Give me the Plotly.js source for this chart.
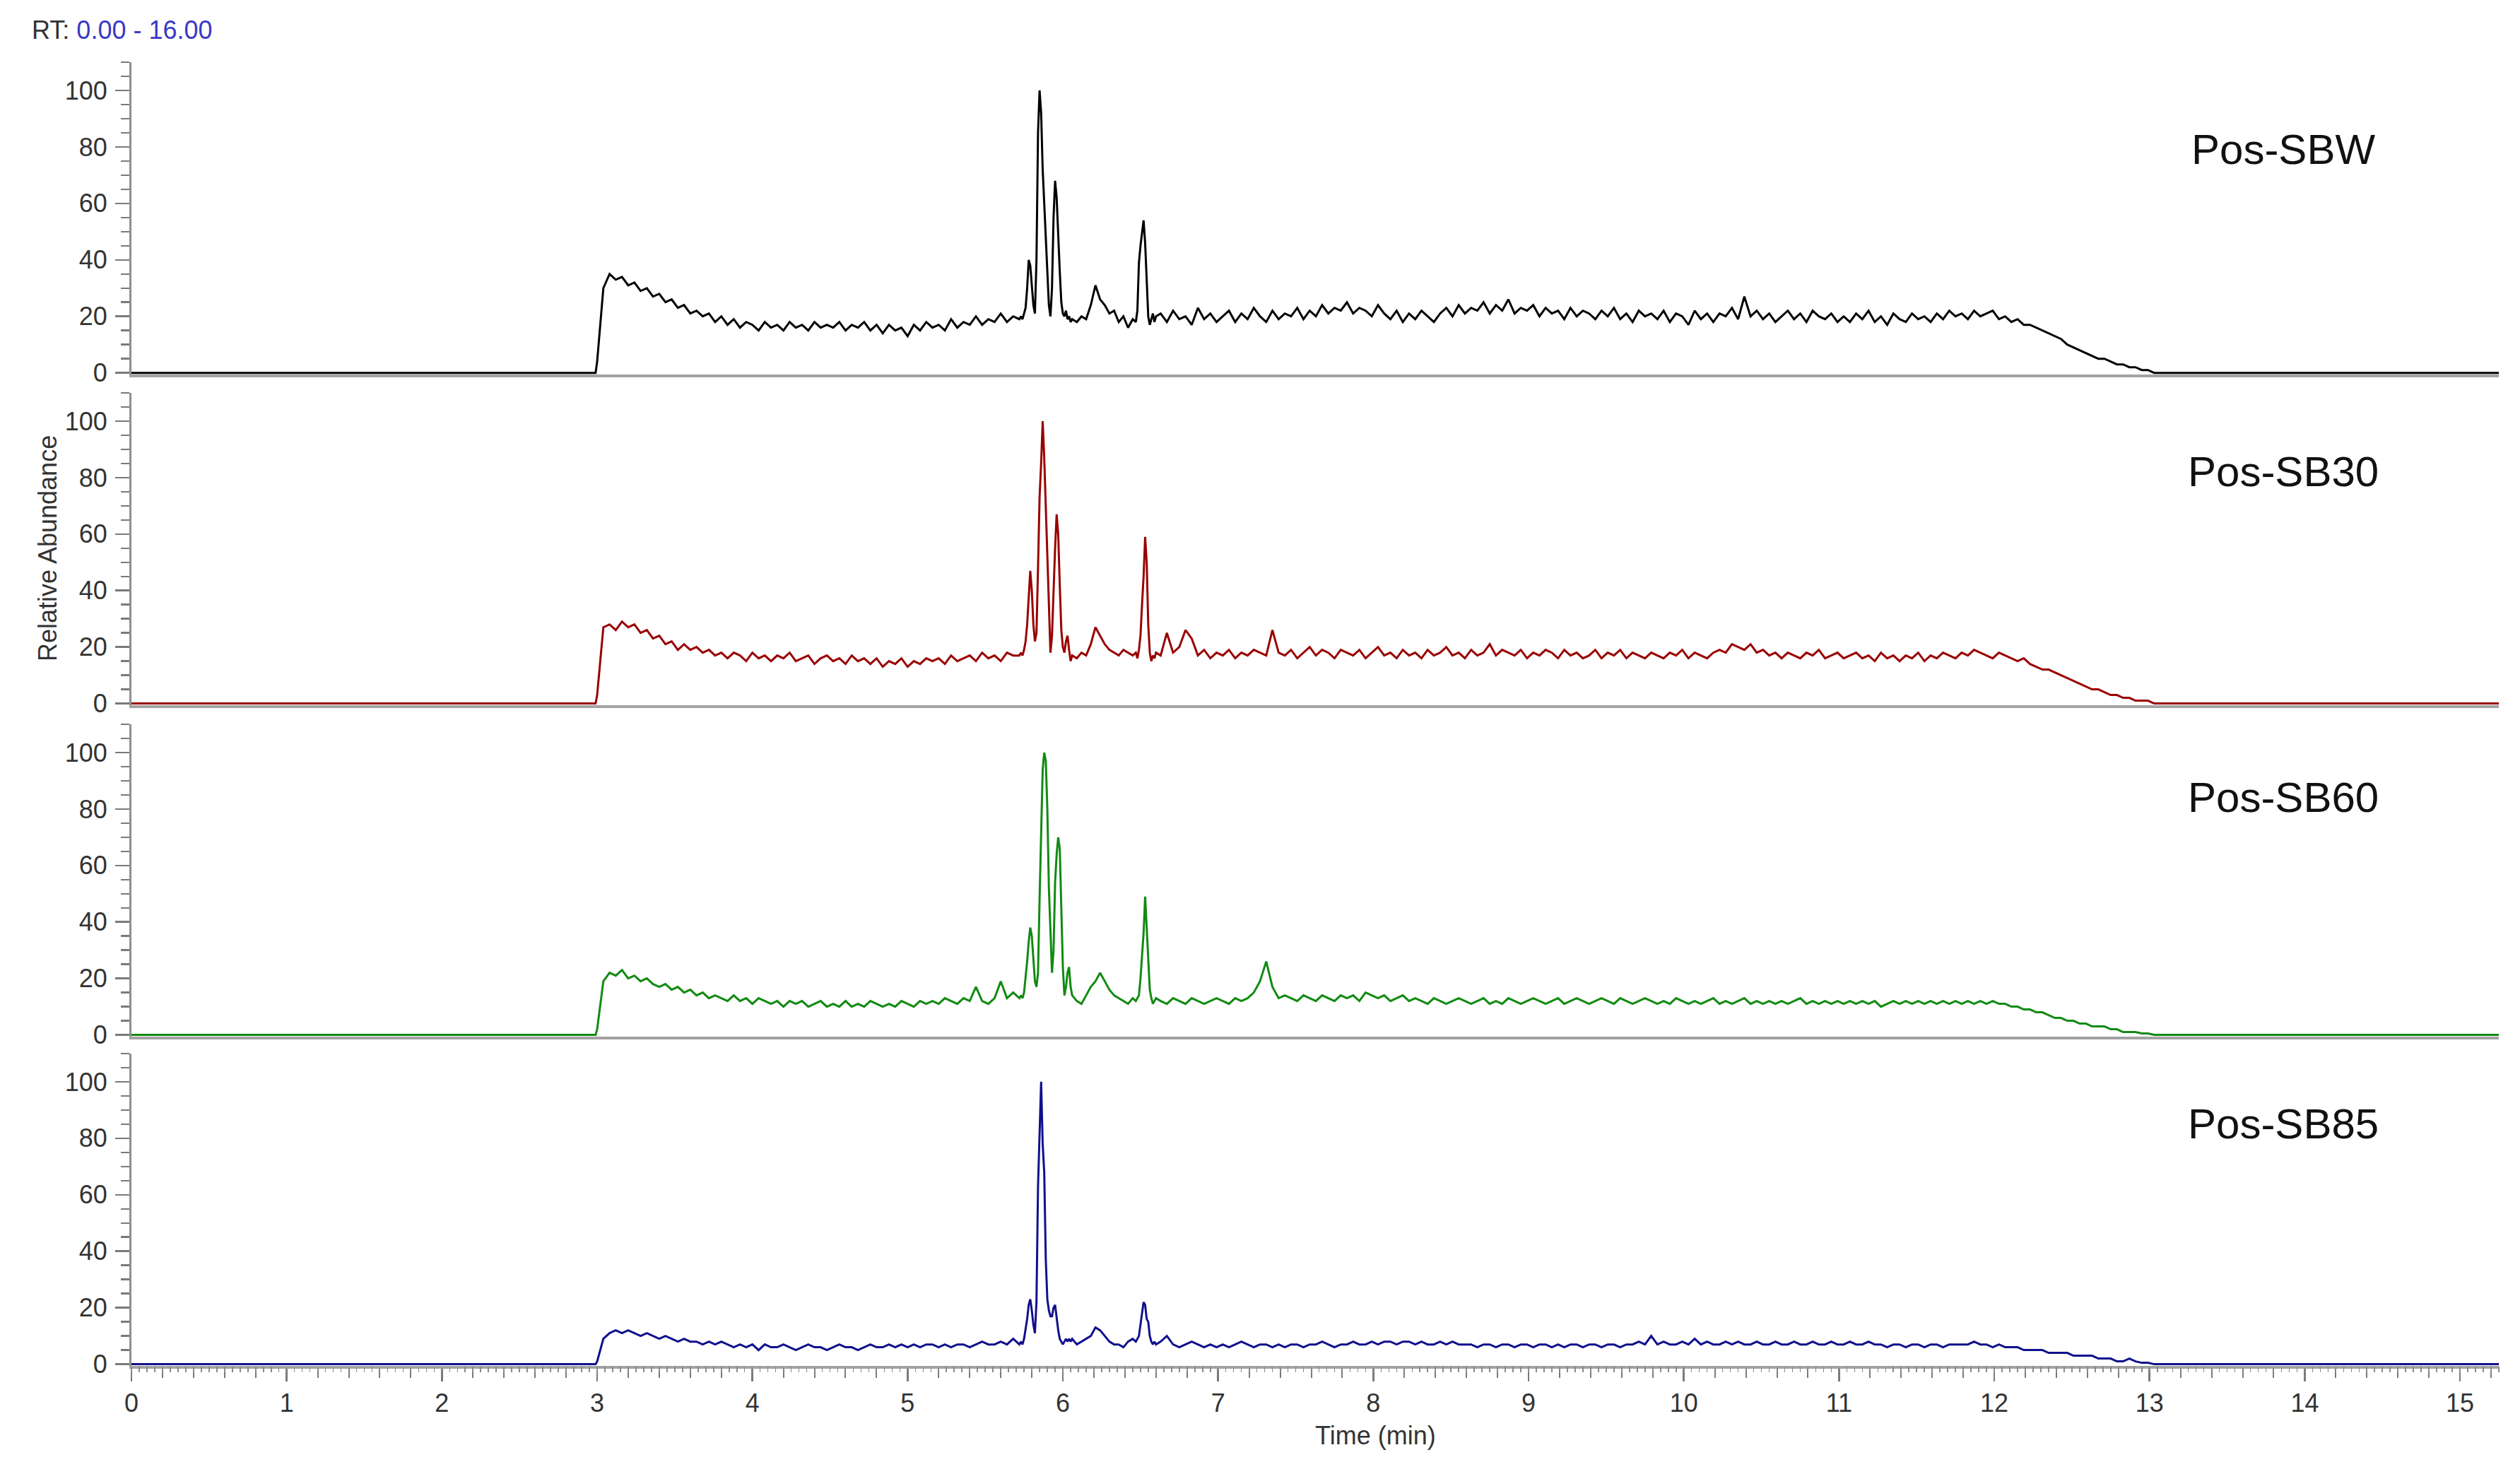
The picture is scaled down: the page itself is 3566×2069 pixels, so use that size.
<!DOCTYPE html>
<html>
<head>
<meta charset="utf-8">
<script src="https://cdn.plot.ly/plotly-3.0.1.min.js"></script>
<style>html,body{margin:0;padding:0;background:#fff;}#chart{width:3566px;height:2069px;}</style>
</head>
<body>
<div id="chart"></div>
<script>
// ---- Data (retention time in minutes, relative abundance in %) ----
const time = [0, 2.99,
 3.00,3.04,3.08,3.12,3.16,3.20,3.24,3.28,3.32,3.36,
 3.40,3.44,3.48,3.52,3.56,3.60,3.64,3.68,3.72,3.76,
 3.80,3.84,3.88,3.92,3.96,4.00,4.04,4.08,4.12,4.16,
 4.20,4.24,4.28,4.32,4.36,4.40,4.44,4.48,4.52,4.56,
 4.60,4.64,4.68,4.72,4.76,4.80,4.84,4.88,4.92,4.96,
 5.00,5.04,5.08,5.12,5.16,5.20,5.24,5.28,5.32,5.36,
 5.40,5.44,5.48,5.52,5.56,5.60,5.64,5.68,
 5.72,5.73,5.74,5.75,5.76,5.77,5.78,5.79,5.80,5.81,
 5.82,5.83,5.84,5.85,5.86,5.87,5.88,5.89,5.90,5.91,
 5.92,5.93,5.94,5.95,5.96,5.97,5.98,5.99,6.00,6.01,
 6.02,6.03,6.04,6.05,6.06,
 6.09,6.12,6.15,6.18,6.21,6.24,6.27,6.30,6.33,6.36,6.39,6.42,6.45,
 6.47,6.48,6.49,6.50,6.51,6.52,6.53,6.54,6.55,6.56,6.57,6.58,6.59,6.60,
 6.63,6.67,6.71,6.75,6.79,6.83,6.87,6.91,6.95,6.99,
 7.03,7.07,7.11,7.15,7.19,7.23,7.27,7.31,7.35,7.39,
 7.43,7.47,7.51,7.55,7.59,7.63,7.67,7.71,7.75,7.79,
 7.83,7.87,7.91,7.95,7.99,8.03,8.07,8.11,8.15,8.19,
 8.23,8.27,8.31,8.35,8.39,8.43,8.47,8.51,8.55,8.59,
 8.63,8.67,8.71,8.75,8.79,8.83,8.87,8.91,8.95,8.99,
 9.03,9.07,9.11,9.15,9.19,9.23,9.27,9.31,9.35,9.39,
 9.43,9.47,9.51,9.55,9.59,9.63,9.67,9.71,9.75,9.79,
 9.83,9.87,9.91,9.95,9.99,10.03,10.07,10.11,10.15,10.19,
 10.23,10.27,10.31,10.35,10.39,10.43,10.47,10.51,10.55,10.59,
 10.63,10.67,10.71,10.75,10.79,10.83,10.87,10.91,10.95,10.99,
 11.03,11.07,11.11,11.15,11.19,11.23,11.27,11.31,11.35,11.39,
 11.43,11.47,11.51,11.55,11.59,11.63,11.67,11.71,11.75,11.79,
 11.83,11.87,11.91,11.95,11.99,12.03,12.07,12.11,12.15,12.19,
 12.23,12.27,12.31,12.35,12.39,12.43,12.47,12.51,12.55,12.59,
 12.63,12.67,12.71,12.75,12.79,12.83,12.87,12.91,12.95,12.99,
 13.03,
 13.07, 15.25];

const sbw = [0, 0,
 4,30,35,33,34,31,32,29,30,27,
 28,25,26,23,24,21,22,20,21,18,
 20,17,19,16,18,17,15,18,16,17,
 15,18,16,17,15,18,16,17,16,18,
 15,17,16,18,15,17,14,17,15,16,
 13,17,15,18,16,17,15,19,16,18,
 17,20,17,19,18,21,18,20,
 19,20,19,21,23,30,40,38,30,24,
 21,40,85,100,92,72,60,48,35,24,
 20,30,55,68,62,47,36,25,21,20,
 22,19,20,18,19,
 18,20,19,24,31,26,24,21,22,18,20,16,19,
 18,22,39,45,50,54,46,33,20,17,19,21,18,20,
 21,18,22,19,20,17,23,19,21,18,
 20,22,18,21,19,23,20,18,22,19,
 21,20,23,19,22,20,24,21,23,22,
 25,21,23,22,20,24,21,19,22,18,
 21,19,22,20,18,21,23,20,24,21,
 23,22,25,21,24,22,26,21,23,22,
 24,20,23,21,22,19,23,20,22,21,
 19,22,20,23,19,21,18,22,20,21,
 19,22,18,21,20,17,22,19,21,18,
 21,20,23,19,27,20,22,19,21,18,
 20,22,19,21,18,22,20,19,21,18,
 20,18,21,19,22,18,20,17,21,19,
 18,21,19,20,18,21,19,22,20,21,
 19,22,20,21,22,19,20,18,19,17,
 17,16,15,14,13,12,10,9,8,7,
 6,5,5,4,3,3,2,2,1,1,
 0,
 0, 0];

const sb30 = [0, 0,
 3,27,28,26,29,27,28,25,26,23,
 24,21,22,19,21,19,20,18,19,17,
 18,16,18,17,15,18,16,17,15,17,
 16,18,15,16,17,14,16,17,15,16,
 14,17,15,16,14,16,13,15,14,16,
 13,15,14,16,15,16,14,17,15,16,
 17,15,18,16,17,15,18,17,
 17,18,17,19,22,28,38,47,40,28,
 22,25,48,73,85,100,87,70,53,35,
 18,24,42,55,67,60,42,26,20,18,
 22,24,19,15,17,
 16,18,17,21,27,24,21,19,18,17,19,18,17,
 18,16,19,24,35,45,59,50,28,18,15,17,16,18,
 17,25,18,20,26,23,17,19,16,18,
 17,19,16,18,17,19,18,17,26,18,
 17,19,16,18,20,17,19,18,16,19,
 18,17,19,16,18,20,17,18,16,19,
 17,18,16,19,17,18,20,17,18,16,
 19,17,18,21,17,19,18,17,19,16,
 18,17,19,18,16,19,17,18,16,17,
 19,16,18,17,19,16,18,17,16,18,
 17,16,18,17,19,16,18,17,16,18,
 19,18,21,20,19,21,18,19,17,18,
 16,18,17,16,18,17,19,16,17,18,
 16,17,18,16,17,15,18,16,17,15,
 17,16,18,15,17,16,18,17,16,18,
 17,19,18,17,16,18,17,16,15,16,
 14,13,12,12,11,10,9,8,7,6,
 5,5,4,3,3,2,2,1,1,1,
 0,
 0, 0];

const sb60 = [0, 0,
 2,19,22,21,23,20,21,19,20,18,
 17,18,16,17,15,16,14,15,13,14,
 13,12,14,12,13,11,13,12,11,12,
 10,12,11,12,10,11,12,10,11,10,
 12,10,11,10,12,11,10,11,10,12,
 11,10,12,11,12,11,13,12,11,13,
 12,17,12,11,13,19,13,15,
 13,14,13,15,20,26,33,38,35,27,
 19,17,22,48,74,94,100,97,80,52,
 37,22,30,54,64,70,66,44,24,14,
 17,22,24,17,14,
 12,11,14,17,19,22,19,16,14,13,12,11,13,
 12,13,14,20,28,36,49,38,27,16,13,11,12,13,
 12,11,13,12,11,13,12,11,12,13,
 12,11,13,12,13,15,19,26,17,13,
 14,13,12,14,13,12,14,13,12,14,
 13,14,12,15,14,13,14,12,13,14,
 12,13,12,11,13,12,11,12,13,12,
 11,12,13,11,12,11,13,12,11,12,
 13,12,11,12,13,11,12,13,12,11,
 12,13,12,11,13,12,11,12,13,12,
 11,12,11,13,12,11,12,11,12,13,
 11,12,11,12,13,11,12,11,12,11,
 12,11,12,13,11,12,11,12,11,12,
 11,12,11,12,11,12,10,11,12,11,
 12,11,12,11,12,11,12,11,12,11,
 12,11,12,11,12,11,11,10,10,9,
 9,8,8,7,6,6,5,5,4,4,
 3,3,3,2,2,1,1,1,0.5,0.5,
 0,
 0, 0];

const sb85 = [0, 0,
 1,9,11,12,11,12,11,10,11,10,
 9,10,9,8,9,8,8,7,8,7,
 8,7,6,7,6,7,5,7,6,6,
 7,6,5,6,7,6,6,5,6,7,
 6,6,5,6,7,6,6,7,6,7,
 6,7,6,7,7,6,7,6,7,7,
 6,7,8,7,7,8,7,9,
 7,8,7,9,12,16,21,23,19,14,
 11,22,63,80,100,78,68,37,23,19,
 17,17,20,21,16,12,9,8,7,8,
 9,8,9,8,9,
 7,8,9,10,13,12,10,8,7,7,6,8,9,
 8,9,10,14,18,22,21,16,15,10,8,7,8,7,
 8,10,7,6,7,8,7,6,7,6,
 7,6,7,8,7,6,7,7,6,7,
 6,7,7,6,7,7,8,7,6,7,
 7,8,7,7,8,7,8,8,7,8,
 8,7,8,7,7,8,7,8,7,7,
 7,6,7,7,6,7,7,6,7,7,
 6,7,7,6,7,6,7,7,6,7,
 7,6,7,7,6,7,7,8,7,10,
 7,8,7,7,8,7,9,7,8,7,
 7,8,7,8,7,7,8,7,7,8,
 7,7,8,7,7,8,7,7,8,7,
 7,8,7,7,8,7,7,6,7,7,
 6,7,7,6,7,7,6,7,7,7,
 7,8,7,7,6,7,6,6,6,5,
 5,5,5,4,4,4,4,3,3,3,
 3,2,2,2,1,1,2,1,0.5,0.5,
 0,
 0, 0];

const sampleNames = ['Pos-SBW', 'Pos-SB30', 'Pos-SB60', 'Pos-SB85'];
const sampleColors = ['#000000', '#990000', '#128a12', '#10108c'];
const labelHeights = [79, 82, 84, 85];
const yTickValues = [0, 20, 40, 60, 80, 100];
const xTickValues = [0,1,2,3,4,5,6,7,8,9,10,11,12,13,14,15];

// ---- Figure ----
const FONT = 'Liberation Sans, Arial, sans-serif';
const series = [sbw, sb30, sb60, sb85];
const domains = [[0.7604, 1.0], [0.5068, 0.7463], [0.2526, 0.4921], [0.0, 0.2396]];

const traces = series.map((s, i) => ({
  type: 'scatter', mode: 'lines',
  x: time, y: s,
  xaxis: i === 0 ? 'x' : 'x' + (i + 1),
  yaxis: i === 0 ? 'y' : 'y' + (i + 1),
  line: {color: sampleColors[i], width: 3},
  hoverinfo: 'skip'
}));
// invisible helper so the fine-tick overlay axis is drawn
traces.push({type: 'scatter', mode: 'lines', x: [0, 15.25], y: [0, 0], xaxis: 'x5', yaxis: 'y4',
  line: {color: 'rgba(0,0,0,0)', width: 0}, hoverinfo: 'skip'});

const layout = {
  width: 3566, height: 2069,
  paper_bgcolor: '#ffffff', plot_bgcolor: '#ffffff',
  margin: {l: 186, r: 30, t: 88, b: 136},
  showlegend: false,
  font: {family: FONT, size: 35, color: '#333333'},
  annotations: []
};

for (let i = 0; i < 4; i++) {
  const xk = i === 0 ? 'xaxis' : 'xaxis' + (i + 1);
  const yk = i === 0 ? 'yaxis' : 'yaxis' + (i + 1);
  const yref = i === 0 ? 'y' : 'y' + (i + 1);
  const xref = i === 0 ? 'x' : 'x' + (i + 1);
  const bottom = i === 3;
  layout[xk] = {
    domain: [0, 1], anchor: yref, range: [0, 15.25],
    showline: true, linecolor: '#a3a3a3', linewidth: 4,
    showgrid: false, zeroline: false, layer: 'below traces',
    ticks: bottom ? 'outside' : '', showticklabels: bottom,
    tickmode: 'array', tickvals: xTickValues, ticktext: xTickValues.map(String),
    ticklen: 18, tickwidth: 2.5, tickcolor: '#7a7a7a',
    tickfont: {family: FONT, size: 36, color: '#333333'},
    minor: bottom ? {ticks: 'outside', dtick: 0.2, tick0: 0, ticklen: 13, tickwidth: 2, tickcolor: '#7a7a7a'} : undefined
  };
  layout[yk] = {
    domain: domains[i], anchor: xref, range: [-0.6, 110],
    showline: true, linecolor: '#8f8f8f', linewidth: 3,
    showgrid: false, zeroline: false,
    ticks: 'outside', tickmode: 'array', tickvals: yTickValues, ticktext: yTickValues.map(String),
    ticklen: 20, tickwidth: 2.5, tickcolor: '#7a7a7a', ticklabelstandoff: 4,
    tickfont: {family: FONT, size: 36, color: '#333333'},
    minor: {ticks: 'outside', dtick: 5, tick0: 0, ticklen: 12, tickwidth: 2.5, tickcolor: '#7a7a7a'}
  };
  layout.annotations.push({
    xref: xref, yref: yref, x: 13.86, y: labelHeights[i],
    text: sampleNames[i], showarrow: false,
    xanchor: 'center', yanchor: 'middle',
    font: {family: FONT, size: 60, color: '#111111'}
  });
}

layout.xaxis5 = {
  overlaying: 'x4', anchor: 'y4', range: [0, 15.25],
  showline: false, showgrid: false, zeroline: false, showticklabels: false,
  ticks: 'outside', tickmode: 'linear', tick0: 0, dtick: 0.05,
  ticklen: 8, tickwidth: 1.6, tickcolor: '#8a8a8a'
};

layout.annotations.push(
  {xref: 'paper', yref: 'paper', x: -0.0427, y: 1.0244, xanchor: 'left', yanchor: 'middle', showarrow: false,
   text: "RT: <span style='color:#3a3ac4'>0.00 - 16.00</span>",
   font: {family: FONT, size: 36, color: '#333333'}},
  {xref: 'paper', yref: 'paper', x: -0.0355, y: 0.6271, xanchor: 'center', yanchor: 'middle', showarrow: false,
   textangle: -90, text: 'Relative Abundance',
   font: {family: FONT, size: 36, color: '#333333'}},
  {xref: 'paper', yref: 'paper', x: 0.5254, y: -0.0535, xanchor: 'center', yanchor: 'middle', showarrow: false,
   text: 'Time (min)',
   font: {family: FONT, size: 36, color: '#333333'}}
);

Plotly.newPlot('chart', traces, layout, {staticPlot: true, displayModeBar: false});
</script>
</body>
</html>
